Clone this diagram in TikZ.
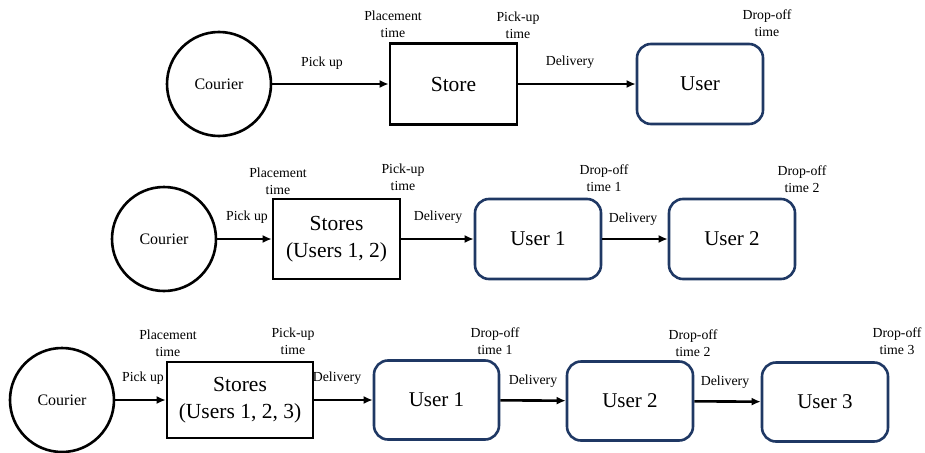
\documentclass[tikz,border=0pt]{standalone}
\usepackage{fontspec}
\setmainfont{Liberation Serif}
\newfontfamily\tnr{Liberation Serif}
\usetikzlibrary{arrows.meta}
\definecolor{navy}{HTML}{1F3864}
\begin{document}
\begin{tikzpicture}[x=1pt,y=-1pt,
  courier/.style={circle,draw=black,line width=2.6pt,minimum size=104pt,inner sep=0pt,font=\tnr\fontsize{16}{18}\selectfont},
  storebox/.style={rectangle,draw=black,line width=2.6pt,inner sep=0pt,align=center,font=\tnr\fontsize{21.5}{27}\selectfont},
  userbox/.style={rectangle,rounded corners=14pt,draw=navy,line width=2.6pt,inner sep=0pt,minimum width=126pt,minimum height=80pt,font=\tnr\fontsize{21}{25}\selectfont},
  lab/.style={inner sep=0pt,align=center,font=\tnr\fontsize{13.8}{17}\selectfont},
  flow/.style={line width=2.6pt,-{Latex[length=9pt,width=8pt]}}]
\useasboundingbox (0,0) rectangle (925,452);

% Row 1
\node[courier] (c1) at (219,84) {Courier};
\node[storebox,minimum width=127pt,minimum height=81pt] (s1) at (453.5,84) {Store};
\node[userbox] (u11) at (700,84) {User};
\node[lab] (l1a) at (322,63) {Pick up};
\node[lab] (l1b) at (393,24) {Placement\\time};
\node[lab] (l1c) at (518,25) {Pick-up\\time};
\node[lab] (l1d) at (570,62) {Delivery};
\node[lab] (l1e) at (767,23) {Drop-off\\time};
\draw[flow] (c1) -- (s1);
\draw[flow] (s1) -- (u11);

% Row 2
\node[courier] (c2) at (164,239) {Courier};
\node[storebox,minimum width=127pt,minimum height=80pt] (s2) at (336.5,239) {Stores\\(Users 1, 2)};
\node[userbox] (u21) at (538,239) {User 1};
\node[userbox] (u22) at (732,239) {User 2};
\node[lab] (l2a) at (247,217) {Pick up};
\node[lab] (l2b) at (278,181) {Placement\\time};
\node[lab] (l2c) at (403,177) {Pick-up\\time};
\node[lab] (l2d) at (438,217) {Delivery};
\node[lab] (l2e) at (604,178.5) {Drop-off\\time 1};
\node[lab] (l2f) at (633,219) {Delivery};
\node[lab] (l2g) at (802,179.5) {Drop-off\\time 2};
\draw[flow] (c2) -- (s2);
\draw[flow] (s2) -- (u21);
\draw[flow] (u21) -- (u22);

% Row 3
\node[courier] (c3) at (62,400) {Courier};
\node[storebox,minimum width=146pt,minimum height=76pt] (s3) at (240,400) {Stores\\(Users 1, 2, 3)};
\node[userbox,minimum width=125pt,minimum height=79pt] (u31) at (436.5,400) {User 1};
\node[userbox,minimum height=79pt] (u32) at (630,401) {User 2};
\node[userbox,minimum height=79pt] (u33) at (825,402) {User 3};
\node[lab] (l3a) at (143,378) {Pick up};
\node[lab] (l3b) at (168,343.5) {Placement\\time};
\node[lab] (l3c) at (293,341.5) {Pick-up\\time};
\node[lab] (l3d) at (337,378) {Delivery};
\node[lab] (l3e) at (495,341.5) {Drop-off\\time 1};
\node[lab] (l3f) at (533,381) {Delivery};
\node[lab] (l3g) at (693,343.5) {Drop-off\\time 2};
\node[lab] (l3h) at (725,382) {Delivery};
\node[lab] (l3i) at (897,341.5) {Drop-off\\time 3};
\draw[flow] (c3) -- (s3);
\draw[flow] (s3) -- (u31);
\draw[flow] (u31) -- (u32);
\draw[flow] (u32) -- (u33);
\end{tikzpicture}
\end{document}
